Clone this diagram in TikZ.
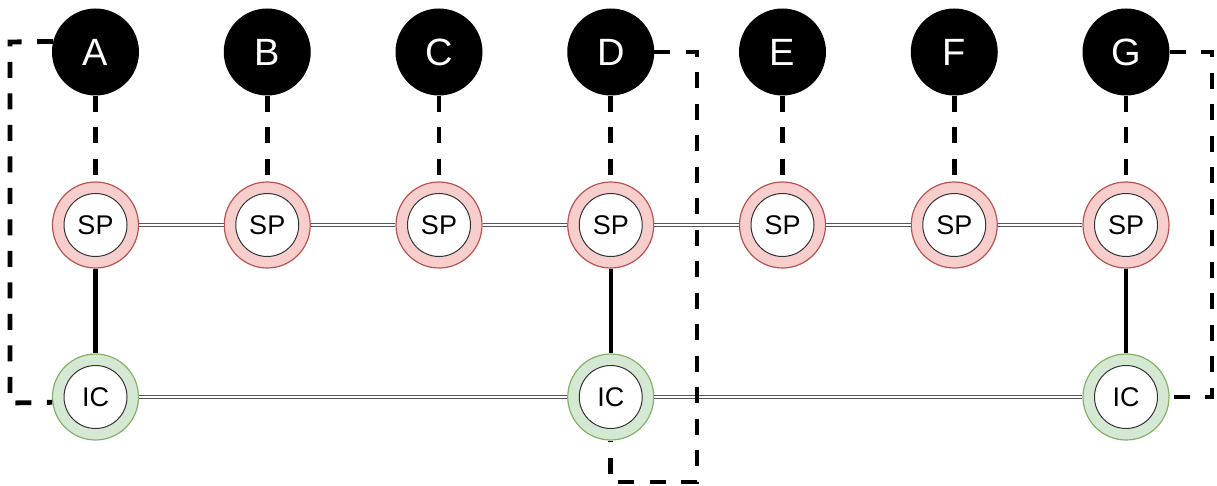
\documentclass[tikz,border=0pt]{standalone}
\usepackage{fontspec}
\setmainfont{Liberation Sans}
\definecolor{spfill}{HTML}{F8CECC}
\definecolor{spdraw}{HTML}{B85450}
\definecolor{icfill}{HTML}{D5E8D4}
\definecolor{icdraw}{HTML}{82B366}
\definecolor{innerdraw}{HTML}{333333}
\definecolor{dbl}{HTML}{555555}
\begin{document}
\begin{tikzpicture}[x=1pt,y=-1pt,
  host/.style={circle,fill=black,minimum size=87pt,inner sep=0pt,text=white,font=\fontsize{38}{38}\selectfont},
  ringsp/.style={circle,fill=spfill,draw=spdraw,line width=1.2pt,minimum size=86pt,inner sep=0pt},
  ringic/.style={circle,fill=icfill,draw=icdraw,line width=1.2pt,minimum size=86pt,inner sep=0pt},
  core/.style={circle,fill=white,draw=innerdraw,line width=1pt,minimum size=63pt,inner sep=0pt,font=\fontsize{27}{27}\selectfont},
  dashline/.style={line width=4.8pt,dash pattern=on 16pt off 15.5pt},
  dblline/.style={draw=dbl,line width=1.1pt,double=white,double distance=2pt},
  solidline/.style={line width=4.5pt}]
\useasboundingbox (0,0) rectangle (1217,486);
% hosts and switching points
\foreach \n/\l [count=\i from 0] in {A/A,B/B,C/C,D/D,E/E,F/F,G/G}{
  \pgfmathsetmacro{\xx}{95.5+171.75*\i}
  \node[host] (\n) at (\xx,52) {\l};
  \node[ringsp] (sp\n) at (\xx,225) {};
  \node[core] (cs\n) at (\xx,225) {SP};
}
% interconnects
\foreach \n/\i in {A/0,D/3,G/6}{
  \pgfmathsetmacro{\xx}{95.5+171.75*\i}
  \node[ringic] (ic\n) at (\xx,397) {};
  \node[core] (ci\n) at (\xx,397) {IC};
}
% host to SP dashed links
\foreach \n in {A,B,C,D,E,F,G}{
  \draw[dashline] (\n) -- (sp\n);
}
% SP chain
\draw[dblline] (spA) -- (spB);
\draw[dblline] (spB) -- (spC);
\draw[dblline] (spC) -- (spD);
\draw[dblline] (spD) -- (spE);
\draw[dblline] (spE) -- (spF);
\draw[dblline] (spF) -- (spG);
% IC chain
\draw[dblline] (icA) -- (icD);
\draw[dblline] (icD) -- (icG);
% SP to IC
\draw[solidline] (spA) -- (icA);
\draw[solidline] (spD) -- (icD);
\draw[solidline] (spG) -- (icG);
% dashed loops
\coordinate (a1) at (10,42);
\coordinate (a2) at (10,403);
\draw[dashline] (A.166.7) -- (a1) -- (a2) -- (icA.187.9);
\coordinate (d1) at (697,52);
\coordinate (d2) at (697,482);
\coordinate (d3) at (610.75,482);
\draw[dashline] (D.east) -- (d1) -- (d2) -- (d3) -- (icD.south);
\coordinate (g1) at (1212,52);
\coordinate (g2) at (1212,397);
\draw[dashline] (G.east) -- (g1) -- (g2) -- (icG.east);
\end{tikzpicture}
\end{document}
